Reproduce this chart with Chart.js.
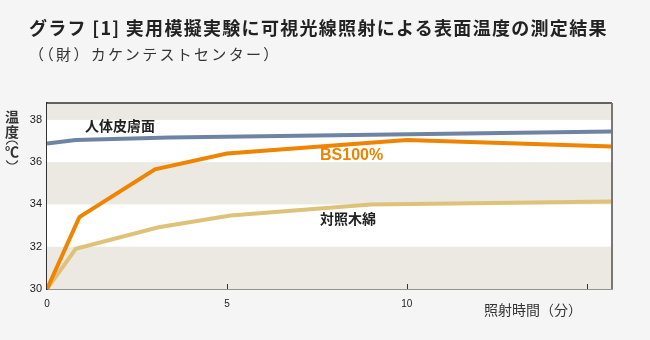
<!DOCTYPE html>
<html>
<head>
<meta charset="utf-8">
<script src="https://cdn.jsdelivr.net/npm/chart.js@4"></script>
<style>
  body { margin: 0; background: #f6f5f5; }
  #wrap { position: relative; width: 650px; height: 340px; }
  .ttl { position: absolute; left: 29px; top: 14px; font: bold 18px "Noto Sans CJK JP"; letter-spacing: 1.3px; color: #222; white-space: nowrap; }
  .sub { position: absolute; left: 29px; top: 43px; font: 15px "Noto Sans CJK JP"; letter-spacing: 2.3px; color: #333; white-space: nowrap; }
</style>
</head>
<body>
<div id="wrap">
  <canvas id="myChart" width="650" height="340"></canvas>
  <div class="ttl">グラフ [1] 実用模擬実験に可視光線照射による表面温度の測定結果</div>
  <div class="sub">（（財）カケンテストセンター）</div>
</div>
<script>
// minutes / deg C
const skinX = [0, 0.8, 3.4, 15.7];
const skinY = [36.88, 37.05, 37.17, 37.45];
const bsX = [0, 0.9, 3.0, 5.0, 10.0, 15.7];
const bsY = [30, 33.4, 35.66, 36.41, 37.05, 36.74];
const cottonX = [0, 0.8, 3.1, 5.1, 9.0, 15.7];
const cottonY = [30, 31.9, 32.92, 33.48, 34.0, 34.14];

const xTicks = [0, 5, 10, 15];
const xTickLabels = ['0', '5', '10', ''];
const yTicks = [30, 32, 34, 36, 38];
const seriesNames = ['人体皮膚面', 'BS100%', '対照木綿'];

function pts(xs, ys) {
  return xs.map((x, i) => ({x: x, y: ys[i]}));
}

const FONT = '"Noto Sans CJK JP", "Noto Sans", sans-serif';

// striped background, frame, tick marks, y title and line labels
const decor = {
  id: 'decor',
  beforeDatasetsDraw(chart) {
    const {ctx, chartArea: a, scales} = chart;
    const y = scales.y;
    ctx.save();
    ctx.fillStyle = '#ece9e2';
    ctx.fillRect(a.left, a.top, a.width, a.height);
    ctx.fillStyle = '#ffffff';
    [[32, 34], [36, 38]].forEach(b => {
      const t = y.getPixelForValue(b[1]), bt = y.getPixelForValue(b[0]);
      ctx.fillRect(a.left, t, a.width, bt - t);
    });
    ctx.restore();
  },
  afterDatasetsDraw(chart) {
    const {ctx, chartArea: a, scales} = chart;
    const x = scales.x;
    ctx.save();
    // frame
    ctx.strokeStyle = '#333';
    ctx.lineWidth = 1.5;
    ctx.beginPath();
    ctx.moveTo(a.left, a.top);
    ctx.lineTo(a.right, a.top);
    ctx.stroke();
    ctx.strokeStyle = '#777';
    ctx.lineWidth = 2;
    ctx.beginPath();
    ctx.moveTo(a.right, a.top);
    ctx.lineTo(a.right, a.bottom);
    ctx.stroke();
    // x tick marks pointing inward
    ctx.strokeStyle = '#333';
    ctx.lineWidth = 1;
    xTicks.slice(1).forEach(v => {
      const px = Math.round(x.getPixelForValue(v)) + 0.5;
      ctx.beginPath();
      ctx.moveTo(px, a.bottom);
      ctx.lineTo(px, a.bottom - 5);
      ctx.stroke();
    });

    // y axis title, stacked
    ctx.fillStyle = '#333';
    ctx.textAlign = 'center';
    ctx.textBaseline = 'middle';
    ctx.font = 'bold 14px ' + FONT;
    ctx.fillText('温', 12, 117);
    ctx.fillText('度', 12, 131.5);
    ctx.font = 'bold 14px ' + FONT;
    ctx.fillText('℃', 12, 152);
    // vertical brackets round the unit
    ctx.strokeStyle = '#333';
    ctx.lineWidth = 1.2;
    ctx.beginPath();
    ctx.ellipse(12, 146, 6, 5, 0, Math.PI * 1.1, Math.PI * 1.9);
    ctx.stroke();
    ctx.beginPath();
    ctx.ellipse(12, 159, 6, 5, 0, Math.PI * 0.1, Math.PI * 0.9);
    ctx.stroke();

    // line labels
    ctx.textAlign = 'left';
    ctx.font = 'bold 14px ' + FONT;
    ctx.fillStyle = '#222';
    ctx.fillText(seriesNames[0], 85, 126);
    ctx.fillText(seriesNames[2], 320, 219);
    ctx.font = 'bold 16px "Liberation Sans", Arial, sans-serif';
    ctx.fillStyle = '#ee8300';
    ctx.fillText(seriesNames[1], 320, 156);

    // x axis title
    ctx.font = '14px ' + FONT;
    ctx.fillStyle = '#333';
    ctx.fillText('照射時間（分）', 484, 310);
    ctx.restore();
  }
};

new Chart(document.getElementById('myChart'), {
  type: 'scatter',
  data: {
    datasets: [
      {
        label: seriesNames[0],
        data: pts(skinX, skinY),
        showLine: true,
        borderColor: '#6f84a3',
        borderWidth: 4,
        pointRadius: 0
      },
      {
        label: seriesNames[1],
        data: pts(bsX, bsY),
        showLine: true,
        borderColor: '#ef8400',
        borderWidth: 4,
        pointRadius: 0
      },
      {
        label: seriesNames[2],
        data: pts(cottonX, cottonY),
        showLine: true,
        borderColor: '#dfc27a',
        borderWidth: 4,
        pointRadius: 0
      }
    ]
  },
  options: {
    responsive: false,
    animation: false,
    devicePixelRatio: 1,
    layout: { padding: { left: 0, right: 38, top: 103, bottom: 0 } },
    plugins: {
      legend: { display: false },
      tooltip: { enabled: false },
      title: { display: false }
    },
    scales: {
      x: {
        type: 'linear',
        min: 0,
        max: 15.7,
        grid: { display: false, drawTicks: false },
        border: { display: true, color: '#333', width: 1.5 },
        afterFit(s) { s.height = 51; },
        afterBuildTicks(s) { s.ticks = xTicks.map(v => ({value: v})); },
        ticks: {
          padding: 9,
          color: '#222',
          font: { family: 'Liberation Sans', size: 10 },
          maxRotation: 0,
          callback: (v, i) => xTickLabels[i]
        }
      },
      y: {
        min: 30,
        max: 38.8,
        grid: { display: false, drawTicks: false },
        border: { display: true, color: '#333', width: 1.5 },
        afterFit(s) { s.width = 47; },
        afterBuildTicks(s) { s.ticks = yTicks.map(v => ({value: v})); },
        ticks: {
          padding: 5,
          color: '#222',
          font: { family: 'Liberation Sans', size: 11 }
        }
      }
    }
  },
  plugins: [decor]
});
</script>
</body>
</html>
